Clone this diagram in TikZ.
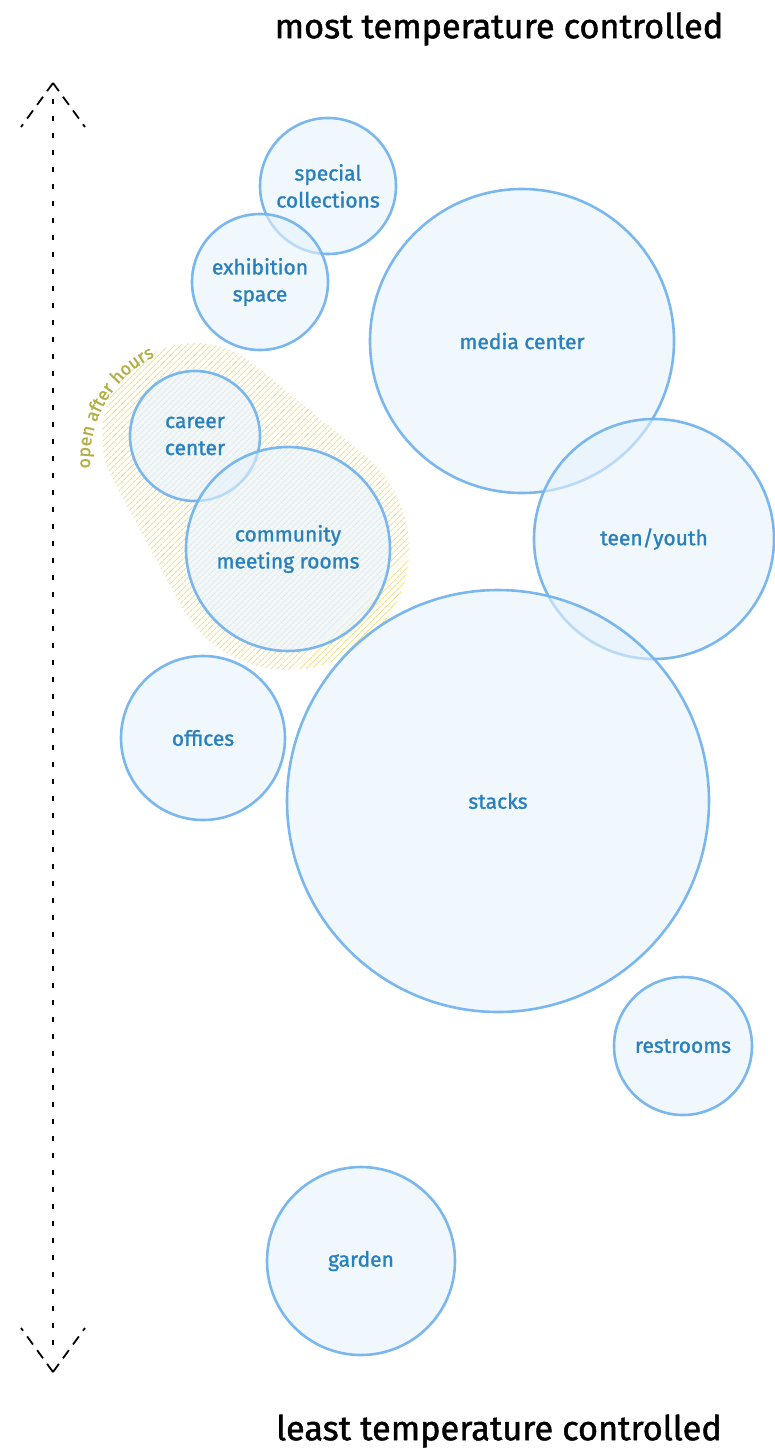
\documentclass[tikz,border=0pt]{standalone}
\usepackage{fontspec}
\setmainfont{Fira Sans}[FakeBold=1.3]
\usepackage{xcolor}
\definecolor{room-rand}{HTML}{74B4EE}
\definecolor{room-fyld}{HTML}{E6F2FC}
\definecolor{room-tekst}{HTML}{2880BC}
\definecolor{hours-gul}{HTML}{F2DF86}
\definecolor{hours-tekst}{HTML}{B2AF45}
\usepackage{tikz}
\usetikzlibrary{positioning}
\usetikzlibrary{patterns.meta}
\usetikzlibrary{decorations.text}

\begin{document}
\begin{tikzpicture}[x=1pt,y=1pt,
  room/.style={circle,draw=room-rand,line width=2.6pt,fill=room-fyld,fill opacity=0.6,
    text opacity=1,draw opacity=0.95,text=room-tekst,align=center,inner sep=0pt,
    font=\fontsize{21}{27}\selectfont},
  title/.style={font=\fontsize{34.3}{37}\selectfont},
  axisline/.style={line width=1.8pt,dash pattern=on 5pt off 12pt},
  arm/.style={line width=1.8pt,dash pattern=on 10pt off 7pt},
  hatch/.style={pattern={Lines[angle=45,distance=4pt,line width=1.1pt]},pattern color=hours-gul}]

\useasboundingbox (0,0) rectangle (775,-1456);

% open after hours, behind the rooms
\fill[hatch] (195,-436) circle[radius=93] (288,-549) circle[radius=121]
  (113.2,-480.4) -- (181.5,-606.7) -- (365.1,-455.6) -- (254.2,-364.2) -- cycle;

\path[decorate,decoration={text along path,text align=center,
  text={|\fontsize{18}{18}\selectfont\color{hours-tekst}|open after hours}}]
  (205,-460) ++(188:115) arc[start angle=188,end angle=112,radius=115];

% rooms
\node[room,minimum size=136pt] (special) at (328,-186) {special\\collections};
\node[room,minimum size=136pt] (exhibition) at (260,-282) {exhibition\\space};
\node[room,minimum size=304pt] (media) at (522,-341) {media center};
\node[room,minimum size=130pt] (career) at (195,-436) {career\\center};
\node[room,minimum size=204pt] (community) at (288,-549) {community\\meeting rooms};
\node[room,minimum size=240pt] (teen) at (654,-539) {teen/youth};
\node[room,minimum size=164pt] (offices) at (203,-738) {offices};
\node[room,minimum size=422pt] (stacks) at (498,-801) {stacks};
\node[room,minimum size=138pt] (restrooms) at (683,-1046) {restrooms};
\node[room,minimum size=188pt] (garden) at (361,-1261) {garden};

% temperature axis
\node[title] (most) at (499,-29) {most temperature controlled};
\node[title] (least) at (499,-1431) {least temperature controlled};

\coordinate (hot) at (53,-83);
\coordinate (cold) at (53,-1372);

\draw[axisline] ([yshift=-16pt]hot) -- ([yshift=16pt]cold);
\draw[arm] (hot) -- ++(-32,-44);
\draw[arm] (hot) -- ++(32,-44);
\draw[arm] (cold) -- ++(-32,44);
\draw[arm] (cold) -- ++(32,44);

\end{tikzpicture}
\end{document}
